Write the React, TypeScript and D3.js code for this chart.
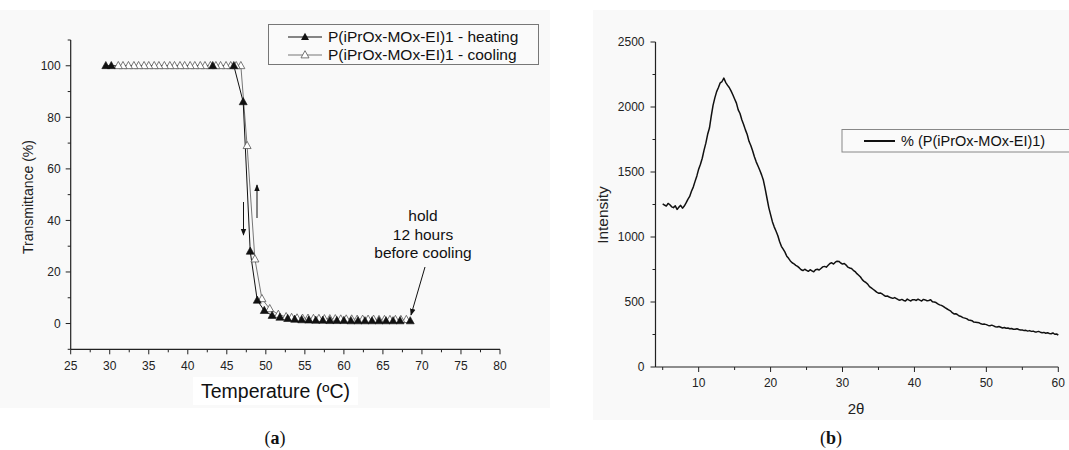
import React from "react";
import * as d3 from "d3";

// ---------- Panel (a): transmittance ----------
const heatingT = [29.5, 30.2, 43.2, 45.9, 47.1, 48.0, 48.9, 49.8, 50.8, 51.8, 52.8, 53.7, 54.6, 55.5, 56.4, 57.3, 58.2, 59.1, 60.0, 60.9, 61.8, 62.7, 63.6, 64.5, 65.4, 66.3, 67.2, 68.5];
const heatingV = [100, 100, 100, 100, 86, 28, 9, 5, 3.1, 2.4, 1.9, 1.6, 1.4, 1.3, 1.2, 1.2, 1.1, 1.1, 1.1, 1.0, 1.0, 1.0, 1.0, 1.0, 1.0, 1.0, 1.0, 1.0];

const coolingT = [68.0, 67.3, 66.6, 65.9, 65.2, 64.5, 63.8, 63.1, 62.4, 61.7, 61.0, 60.3, 59.6, 58.9, 58.2, 57.5, 56.8, 56.1, 55.4, 54.7, 54.0, 53.3, 52.6, 51.6, 50.5, 49.5, 48.6, 47.6, 46.8,
  46.2, 45.5, 44.9, 44.2, 43.6, 42.9, 42.2, 41.6, 40.9, 40.3, 39.6, 39.0, 38.3, 37.7, 37.0, 36.3, 35.7, 35.0, 34.4, 33.7, 33.1, 32.4, 31.7, 31.1];
const coolingV = [1.5, 1.5, 1.5, 1.5, 1.5, 1.5, 1.6, 1.6, 1.6, 1.6, 1.7, 1.7, 1.7, 1.8, 1.8, 1.8, 1.9, 1.9, 2.0, 2.0, 2.1, 2.3, 2.6, 3.5, 5.7, 9.6, 25, 69, 100,
  100, 100, 100, 100, 100, 100, 100, 100, 100, 100, 100, 100, 100, 100, 100, 100, 100, 100, 100, 100, 100, 100, 100, 100];

const aXTicks = [25, 30, 35, 40, 45, 50, 55, 60, 65, 70, 75, 80];
const aYTicks = [0, 20, 40, 60, 80, 100];
const aYMinor = [-10, 10, 30, 50, 70, 90, 110];
const aXMinor = [27.5, 32.5, 37.5, 42.5, 47.5, 52.5, 57.5, 62.5, 67.5, 72.5, 77.5];

// ---------- Panel (b): XRD ----------
const twoTheta = [
  5, 5.25, 5.5, 5.75, 6, 6.25, 6.5, 6.75, 7, 7.25, 7.5, 7.75, 8, 8.25, 8.5, 8.75, 9, 9.25, 9.5, 9.75,
  10, 10.25, 10.5, 10.75, 11, 11.25, 11.5, 11.75, 12, 12.25, 12.5, 12.75, 13, 13.25, 13.5, 13.75, 14, 14.25, 14.5, 14.75,
  15, 15.25, 15.5, 15.75, 16, 16.25, 16.5, 16.75, 17, 17.25, 17.5, 17.75, 18, 18.25, 18.5, 18.75, 19, 19.25, 19.5, 19.75,
  20, 20.25, 20.5, 20.75, 21, 21.25, 21.5, 21.75, 22, 22.25, 22.5, 22.75, 23, 23.25, 23.5, 23.75, 24, 24.25, 24.5, 24.75,
  25, 25.25, 25.5, 25.75, 26, 26.25, 26.5, 26.75, 27, 27.25, 27.5, 27.75, 28, 28.25, 28.5, 28.75, 29, 29.25, 29.5, 29.75,
  30, 30.25, 30.5, 30.75, 31, 31.25, 31.5, 31.75, 32, 32.25, 32.5, 32.75, 33, 33.25, 33.5, 33.75, 34, 34.25, 34.5, 34.75,
  35, 35.25, 35.5, 35.75, 36, 36.25, 36.5, 36.75, 37, 37.25, 37.5, 37.75, 38, 38.25, 38.5, 38.75, 39, 39.25, 39.5, 39.75,
  40, 40.25, 40.5, 40.75, 41, 41.25, 41.5, 41.75, 42, 42.25, 42.5, 42.75, 43, 43.25, 43.5, 43.75, 44, 44.25, 44.5, 44.75,
  45, 45.25, 45.5, 45.75, 46, 46.25, 46.5, 46.75, 47, 47.25, 47.5, 47.75, 48, 48.25, 48.5, 48.75, 49, 49.25, 49.5, 49.75,
  50, 50.25, 50.5, 50.75, 51, 51.25, 51.5, 51.75, 52, 52.25, 52.5, 52.75, 53, 53.25, 53.5, 53.75, 54, 54.25, 54.5, 54.75,
  55, 55.25, 55.5, 55.75, 56, 56.25, 56.5, 56.75, 57, 57.25, 57.5, 57.75, 58, 58.25, 58.5, 58.75, 59, 59.25, 59.5, 59.75,
  60];
const intensity = [
  1255, 1246, 1238, 1258, 1248, 1232, 1226, 1240, 1212, 1230, 1243, 1222, 1238, 1262, 1290, 1312, 1352, 1384, 1428, 1470,
  1522, 1560, 1606, 1668, 1722, 1790, 1838, 1930, 2012, 2070, 2118, 2150, 2186, 2196, 2222, 2190, 2168, 2150, 2124, 2094,
  2062, 2030, 1978, 1950, 1902, 1866, 1824, 1788, 1736, 1704, 1664, 1618, 1578, 1546, 1514, 1478, 1436, 1370, 1298, 1226,
  1172, 1118, 1078, 1046, 1012, 966, 928, 906, 884, 852, 836, 816, 802, 794, 782, 774, 762, 748, 742, 752,
  744, 736, 748, 740, 732, 748, 752, 746, 758, 770, 774, 768, 782, 796, 802, 792, 806, 814, 812, 800,
  792, 796, 784, 768, 762, 758, 744, 734, 718, 706, 692, 672, 658, 650, 638, 618, 608, 598, 588, 576,
  568, 570, 562, 552, 544, 546, 538, 532, 528, 534, 526, 518, 514, 520, 512, 508, 522, 514, 508, 518,
  518, 512, 522, 514, 508, 520, 516, 510, 512, 518, 502, 500, 496, 486, 478, 474, 466, 456, 448, 440,
  432, 418, 408, 410, 402, 392, 388, 380, 376, 372, 362, 360, 356, 346, 344, 342, 340, 332, 328, 330,
  326, 320, 318, 322, 316, 310, 308, 312, 306, 300, 304, 298, 300, 294, 296, 290, 290, 294, 288, 284,
  284, 280, 282, 276, 280, 274, 276, 270, 270, 274, 268, 264, 266, 260, 264, 258, 256, 262, 252, 254,
  246];

const bXTicks = [10, 20, 30, 40, 50, 60];
const bXMinor = [5, 15, 25, 35, 45, 55];
const bYTicks = [0, 500, 1000, 1500, 2000, 2500];
const bYMinor = [250, 750, 1250, 1750, 2250];

const FONT = "Liberation Sans, Arial, sans-serif";
const AX = "#222";

function tri(cx: number, cy: number, s: number) {
  const h = s * 0.9;
  return `M${cx},${cy - h * 0.6}L${cx + s / 2},${cy + h * 0.4}L${cx - s / 2},${cy + h * 0.4}Z`;
}

export default function App() {
  const ax = d3.scaleLinear().domain([25, 80]).range([70.7, 500]);
  const ay = d3.scaleLinear().domain([-10, 110]).range([349.3, 40]);
  const bx = d3.scaleLinear().domain([4, 60]).range([655.5, 1058.3]);
  const by = d3.scaleLinear().domain([0, 2500]).range([367, 42]);

  const heat = heatingT.map((t, i) => [t, heatingV[i]] as [number, number]);
  const cool = coolingT.map((t, i) => [t, coolingV[i]] as [number, number]);
  const lineA = d3.line<[number, number]>().x((d) => ax(d[0])).y((d) => ay(d[1]));
  const xrd = twoTheta.map((t, i) => [t, intensity[i]] as [number, number]);
  const lineB = d3.line<[number, number]>().x((d) => bx(d[0])).y((d) => by(d[1]));

  const ax0 = ax(25);
  const ayBase = ay(-10);
  const bx0 = bx(4);
  const byBase = by(0);

  return (
    <div style={{ position: "absolute", left: 0, top: 0 }}>
      <svg width={1069} height={450} style={{ display: "block", background: "#fff" }} fontFamily={FONT}>
        <defs>
          <marker id="ah" viewBox="0 0 10 10" refX="9" refY="5" markerWidth="7" markerHeight="7" orient="auto-start-reverse">
            <path d="M0,1L10,5L0,9Z" fill="#111" />
          </marker>
        </defs>
        <rect x={0} y={10} width={550} height={398} fill="#f9f9f9" />
        <rect x={593} y={10} width={476} height={410} fill="#f9f9f9" />

        {/* ===== Panel (a) ===== */}
        <line x1={ax0} x2={ax0} y1={ay(110)} y2={ayBase} stroke={AX} strokeWidth={1.2} />
        <line x1={ax0} x2={ax(80)} y1={ayBase} y2={ayBase} stroke={AX} strokeWidth={1.2} />
        {aYTicks.map((t) => (
          <g key={"ay" + t}>
            <line x1={ax0 - 5} x2={ax0} y1={ay(t)} y2={ay(t)} stroke={AX} />
            <text x={ax0 - 10} y={ay(t)} dy="0.35em" textAnchor="end" fontSize={12} fill={AX}>{t}</text>
          </g>
        ))}
        {aYMinor.map((t) => (
          <line key={"aym" + t} x1={ax0 - 3} x2={ax0} y1={ay(t)} y2={ay(t)} stroke={AX} />
        ))}
        {aXTicks.map((t) => (
          <g key={"ax" + t}>
            <line x1={ax(t)} x2={ax(t)} y1={ayBase} y2={ayBase + 5} stroke={AX} />
            <text x={ax(t)} y={ayBase + 16} dy="0.35em" textAnchor="middle" fontSize={12} fill={AX}>{t}</text>
          </g>
        ))}
        {aXMinor.map((t) => (
          <line key={"axm" + t} x1={ax(t)} x2={ax(t)} y1={ayBase} y2={ayBase + 3} stroke={AX} />
        ))}
        <text transform={`translate(28,197) rotate(-90)`} textAnchor="middle" dy="0.35em" fontSize={14} fill={AX}>Transmittance (%)</text>
        <rect x={193} y={377} width={165} height={28} fill="#fff" />
        <text x={275.5} y={391} dy="0.35em" textAnchor="middle" fontSize={19.5} fill="#111">Temperature (ºC)</text>

        <path d={lineA(cool) || ""} fill="none" stroke="#777" strokeWidth={1} />
        <path d={lineA(heat) || ""} fill="none" stroke="#111" strokeWidth={1} />
        {cool.map((d, i) => (
          <path key={"c" + i} d={tri(ax(d[0]), ay(d[1]), 8)} fill="#fff" stroke="#555" strokeWidth={0.8} />
        ))}
        {heat.map((d, i) => (
          <path key={"h" + i} d={tri(ax(d[0]), ay(d[1]), 8)} fill="#111" stroke="#111" strokeWidth={0.6} />
        ))}

        <line x1={243.5} y1={202} x2={243.5} y2={235} stroke="#111" strokeWidth={1} markerEnd="url(#ah)" />
        <line x1={257} y1={218} x2={257} y2={185} stroke="#111" strokeWidth={1} markerEnd="url(#ah)" />

        <text x={423} y={216} dy="0.35em" textAnchor="middle" fontSize={15.5} fill="#111">hold</text>
        <text x={423} y={234.5} dy="0.35em" textAnchor="middle" fontSize={15.5} fill="#111">12 hours</text>
        <text x={423} y={253} dy="0.35em" textAnchor="middle" fontSize={15.5} fill="#111">before cooling</text>
        <line x1={425} y1={267} x2={411} y2={315} stroke="#111" strokeWidth={1} markerEnd="url(#ah)" />

        <rect x={268.5} y={24.5} width={270} height={40} fill="#fafafa" stroke="#777" strokeWidth={1} />
        <line x1={288} x2={322} y1={37} y2={37} stroke="#111" />
        <path d={tri(305, 37, 8)} fill="#111" />
        <text x={328} y={37} dy="0.35em" fontSize={15.5} fill="#111">P(iPrOx-MOx-EI)1 - heating</text>
        <line x1={288} x2={322} y1={55} y2={55} stroke="#777" />
        <path d={tri(305, 55, 8)} fill="#fff" stroke="#555" strokeWidth={0.8} />
        <text x={328} y={55} dy="0.35em" fontSize={15.5} fill="#111">P(iPrOx-MOx-EI)1 - cooling</text>

        {/* ===== Panel (b) ===== */}
        <line x1={bx0} x2={bx0} y1={by(2500)} y2={byBase} stroke={AX} strokeWidth={1.2} />
        <line x1={bx0} x2={bx(60)} y1={byBase} y2={byBase} stroke={AX} strokeWidth={1.2} />
        {bYTicks.map((t) => (
          <g key={"by" + t}>
            <line x1={bx0 - 5} x2={bx0} y1={by(t)} y2={by(t)} stroke={AX} />
            <text x={bx0 - 11} y={by(t)} dy="0.35em" textAnchor="end" fontSize={12} fill={AX}>{t}</text>
          </g>
        ))}
        {bYMinor.map((t) => (
          <line key={"bym" + t} x1={bx0 - 3} x2={bx0} y1={by(t)} y2={by(t)} stroke={AX} />
        ))}
        {bXTicks.map((t) => (
          <g key={"bx" + t}>
            <line x1={bx(t)} x2={bx(t)} y1={byBase} y2={byBase + 5} stroke={AX} />
            <text x={bx(t)} y={byBase + 16} dy="0.35em" textAnchor="middle" fontSize={12} fill={AX}>{t}</text>
          </g>
        ))}
        {bXMinor.map((t) => (
          <line key={"bxm" + t} x1={bx(t)} x2={bx(t)} y1={byBase} y2={byBase + 3} stroke={AX} />
        ))}
        <text transform={`translate(603,215) rotate(-90)`} textAnchor="middle" dy="0.35em" fontSize={15.5} fill={AX}>Intensity</text>
        <text x={856} y={409} dy="0.35em" textAnchor="middle" fontSize={15} fill={AX}>2θ</text>

        <path d={lineB(xrd) || ""} fill="none" stroke="#111" strokeWidth={1.5} strokeLinejoin="round" />

        <rect x={842} y={129.5} width={240} height={22.5} fill="#fafafa" stroke="#888" strokeWidth={1} />
        <line x1={864} x2={895} y1={141} y2={141} stroke="#111" strokeWidth={2} />
        <text x={901} y={141} dy="0.35em" fontSize={14.5} fill="#111">% (P(iPrOx-MOx-EI)1)</text>

        <text x={275} y={438} dy="0.35em" textAnchor="middle" fontSize={18} fontFamily="Liberation Serif, serif" fill="#111">
          (<tspan fontWeight="bold">a</tspan>)
        </text>
        <text x={831} y={438} dy="0.35em" textAnchor="middle" fontSize={18} fontFamily="Liberation Serif, serif" fill="#111">
          (<tspan fontWeight="bold">b</tspan>)
        </text>
      </svg>
    </div>
  );
}
